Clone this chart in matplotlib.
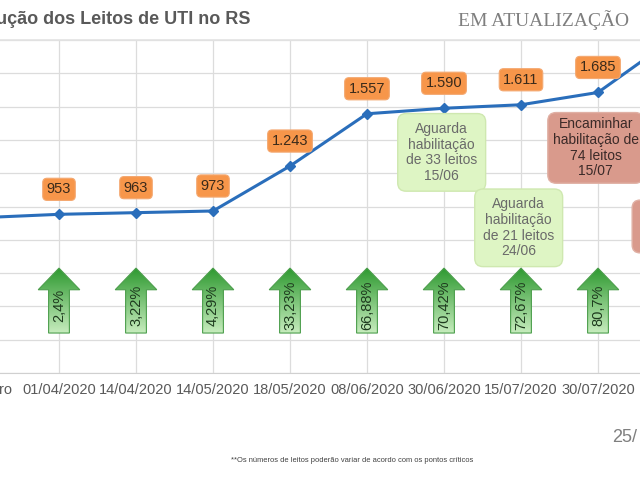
import numpy as np
import matplotlib.pyplot as plt
from matplotlib.patches import Polygon
from matplotlib.colors import LinearSegmentedColormap
from matplotlib.lines import Line2D

plt.rcParams['font.family'] = ['Liberation Sans', 'DejaVu Sans']

# data
dates = ["Fevereiro", "01/04/2020", "14/04/2020", "14/05/2020", "18/05/2020",
         "08/06/2020", "30/06/2020", "15/07/2020", "30/07/2020", ""]
beds = [933, 953, 963, 973, 1243, 1557, 1590, 1611, 1685, 2015]
bed_labels = ["933", "953", "963", "973", "1.243", "1.557", "1.590", "1.611", "1.685", ""]
growth = ["", "2,4%", "3,22%", "4,29%", "33,23%", "66,88%", "70,42%", "72,67%", "80,7%", ""]

notes = ["Aguarda\nhabilitação\nde 33 leitos\n15/06",
         "Aguarda\nhabilitação\nde 21 leitos\n24/06",
         "Encaminhar\nhabilitação de\n74 leitos\n15/07"]
note_idx = [6, 7, 8]
note_y = [1325, 872, 1352]
note_kind = ["green", "green", "red"]

x = np.arange(len(dates))

fig = plt.figure(figsize=(6.4, 4.8), dpi=100)
fig.patch.set_facecolor('white')

# axes is wider than the slide crop on purpose
px_w, px_h = 640.0, 480.0
left_px, right_px = -18 - 38.5, -18 + 77 * 9.5
ax = fig.add_axes([left_px / px_w, 107 / px_h, (right_px - left_px) / px_w, 333 / px_h])
ax.set_xlim(-0.5, 9.5)
ax.set_ylim(0, 2000)

ax.set_yticks(np.arange(0, 2001, 200))
ax.set_xticks(x)
ax.set_xticklabels(dates, color='#595959', fontsize=10.5)
ax.tick_params(axis='x', length=0, pad=7.5)
ax.tick_params(axis='y', length=0, labelleft=False)
ax.grid(True, color='#dcdcdc', linewidth=0.9, zorder=0)
for s in ['left', 'right', 'top']:
    ax.spines[s].set_visible(False)
ax.spines['bottom'].set_color('#d0d0d0')

ax.plot(x, beds, color='#2a6ebb', linewidth=2.2, marker='D', markersize=5,
        zorder=5)

# value boxes
for xi, v, lab in zip(x, beds, bed_labels):
    if not lab:
        continue
    ax.annotate(lab, (xi, v), xytext=(0, 18), textcoords='offset points',
                ha='center', va='center', fontsize=10.5, color='#3a2a1a', zorder=6,
                bbox=dict(boxstyle='round,pad=0.28,rounding_size=0.3',
                          fc='#f7964a', ec='#f4a870', lw=0.8))

# green arrows with gradient
cmap = LinearSegmentedColormap.from_list('g', ['#c6ecbd', '#2f9a31'])
grad = np.linspace(0, 1, 100).reshape(-1, 1)
hw, sw = 0.27, 0.135
y_top, y_neck, y_bot = 630, 500, 240
for xi, g in zip(x, growth):
    if not g:
        continue
    pts = [(xi, y_top), (xi + hw, y_neck), (xi + sw, y_neck), (xi + sw, y_bot),
           (xi - sw, y_bot), (xi - sw, y_neck), (xi - hw, y_neck)]
    poly = Polygon(pts, closed=True, fc='none', ec='#4c9e4c', lw=0.8, zorder=4)
    ax.add_patch(poly)
    im = ax.imshow(grad, extent=(xi - hw, xi + hw, y_bot, y_top), origin='lower',
                   cmap=cmap, aspect='auto', zorder=3)
    im.set_clip_path(poly)
    ax.text(xi, 405, g, rotation=90, ha='center', va='center', fontsize=10.5,
            color='#1e3a1e', zorder=5)

ax.set_xlim(-0.5, 9.5)
ax.set_ylim(0, 2000)

# note boxes
for txt, xi, yv, kind in zip(notes, note_idx, note_y, note_kind):
    if kind == 'green':
        fc, ec, tc, pad = '#def5c4', '#cfe8b0', '#6a6a6a', 0.6
    else:
        fc, ec, tc, pad = '#d99a8c', '#e0b0a4', '#3b2a28', 0.35
    ax.text(xi - 0.03, yv, txt, ha='center', va='center', fontsize=10,
            color=tc, linespacing=1.15, zorder=6,
            bbox=dict(boxstyle=f'round,pad={pad},rounding_size=0.6', fc=fc, ec=ec, lw=1))

# partially visible box at the right edge
ax.text(9, 880, " " * 20 + "\n\n", ha='center', va='center', fontsize=9.5,
        zorder=6, bbox=dict(boxstyle='round,pad=0.5,rounding_size=0.6',
                            fc='#d99a8c', ec='#e0b0a4', lw=1))

# header
fig.text(250 / px_w, 1 - 20 / px_h, "Evolução dos Leitos de UTI no RS", ha='right',
         va='center', fontsize=13, fontweight='bold', color='#595959')
fig.text(629 / px_w, 1 - 20 / px_h, "EM ATUALIZAÇÃO", ha='right', va='center',
         fontsize=14, color='#7f7f7f', family='Liberation Serif')
fig.add_artist(Line2D([0, 1], [1 - 40 / px_h] * 2, color='#e3e3e3', lw=1.2,
                      transform=fig.transFigure))

# footer
fig.text(612 / px_w, 1 - 437 / px_h, "25/", ha='left', va='center', fontsize=13,
         color='#7f7f7f')
fig.text(231 / px_w, 1 - 460 / px_h,
         "**Os números de leitos poderão variar de acordo com os pontos críticos",
         ha='left', va='center', fontsize=5.4, color='#404040')

fig.savefig('out.png', dpi=100)
